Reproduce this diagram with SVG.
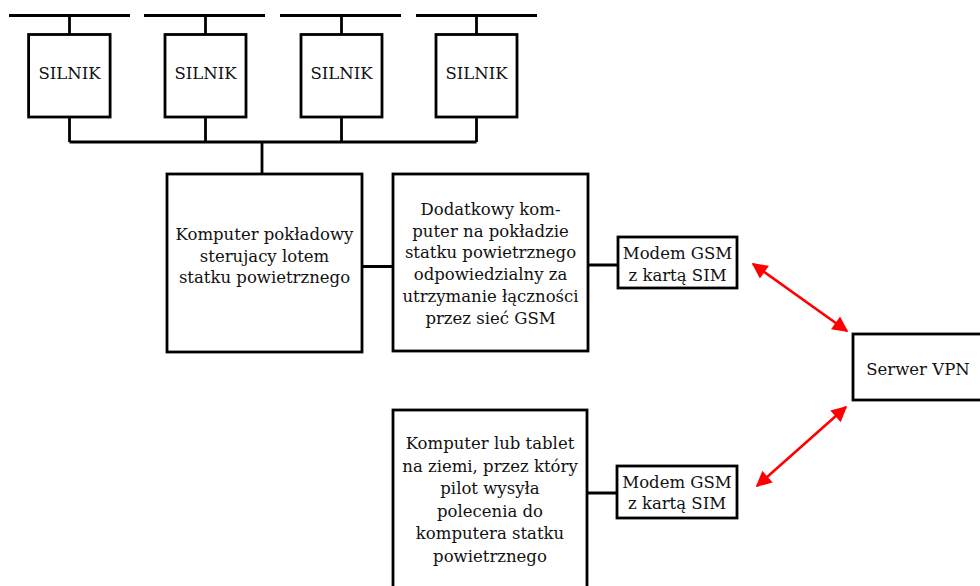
<svg xmlns="http://www.w3.org/2000/svg" width="980" height="586" viewBox="0 0 980 586">
<defs>
<style>
.box{fill:#fff;stroke:#000;stroke-width:2.8}
.ln{fill:none;stroke:#000;stroke-width:2.8}
.red{fill:none;stroke:#f00;stroke-width:2.6}
text{font-family:"DejaVu Serif","Liberation Serif",serif;font-size:16.5px;fill:#111;text-anchor:middle}
</style>
<marker id="ah" viewBox="0 0 10 10" refX="9" refY="5" markerWidth="6.5" markerHeight="6" orient="auto-start-reverse" markerUnits="strokeWidth">
<path d="M0,0 L10,5 L0,10 z" fill="#f00"/>
</marker>
</defs>
<rect width="980" height="586" fill="#fff"/>
<g id="connectors">
<path class="ln" d="M9,15.5H130 M144,15.5H265 M280,15.5H401 M416,15.5H537"/>
<path class="ln" d="M69.5,15.5V34.5 M205.5,15.5V34.5 M341.5,15.5V34.5 M476.5,15.5V34.5"/>
<path class="ln" d="M69.5,117V142 M205.5,117V142 M341.5,117V142 M476.5,117V142 M69.5,142H476.5 M262,142V174"/>
<path class="ln" d="M362,266.5H393 M588,265H618 M587,493H617"/>
<path class="red" d="M753,264L847,331" marker-start="url(#ah)" marker-end="url(#ah)"/>
<path class="red" d="M846,407L757,486" marker-start="url(#ah)" marker-end="url(#ah)"/>
</g>
<g id="silnik1"><rect class="box" x="28.6" y="34.5" width="81.5" height="82.5"/><text x="69.5" y="79">SILNIK</text></g>
<g id="silnik2"><rect class="box" x="165" y="34.5" width="81" height="82.5"/><text x="205.5" y="79">SILNIK</text></g>
<g id="silnik3"><rect class="box" x="301" y="34.5" width="81" height="82.5"/><text x="341.5" y="79">SILNIK</text></g>
<g id="silnik4"><rect class="box" x="436" y="34.5" width="81" height="82.5"/><text x="476.5" y="79">SILNIK</text></g>
<g id="komputer-pokladowy"><rect class="box" x="167" y="174" width="195" height="178"/>
<text x="264.5" y="240">Komputer pokładowy</text>
<text x="264.5" y="261.7">sterujacy lotem</text>
<text x="264.5" y="283.4">statku powietrznego</text></g>
<g id="komputer-dodatkowy"><rect class="box" x="393" y="174" width="195" height="177"/>
<text x="490.5" y="215">Dodatkowy kom-</text>
<text x="490.5" y="236.7">puter na pokładzie</text>
<text x="490.5" y="258.4">statku powietrznego</text>
<text x="490.5" y="280.1">odpowiedzialny za</text>
<text x="490.5" y="301.8">utrzymanie łączności</text>
<text x="490.5" y="323.5">przez sieć GSM</text></g>
<g id="modem1"><rect class="box" x="618" y="237" width="119" height="51"/>
<text x="677.5" y="259">Modem GSM</text>
<text x="677.5" y="280.5">z kartą SIM</text></g>
<g id="serwer-vpn"><rect class="box" x="853" y="334" width="140" height="66"/>
<text x="918" y="375">Serwer VPN</text></g>
<g id="komputer-ziemia"><rect class="box" x="393" y="410" width="194" height="190"/>
<text x="490" y="449">Komputer lub tablet</text>
<text x="490" y="471.6">na ziemi, przez który</text>
<text x="490" y="494.2">pilot wysyła</text>
<text x="490" y="516.8">polecenia do</text>
<text x="490" y="539.4">komputera statku</text>
<text x="490" y="562">powietrznego</text></g>
<g id="modem2"><rect class="box" x="617" y="466" width="120" height="52"/>
<text x="677" y="487.5">Modem GSM</text>
<text x="677" y="509">z kartą SIM</text></g>
</svg>
